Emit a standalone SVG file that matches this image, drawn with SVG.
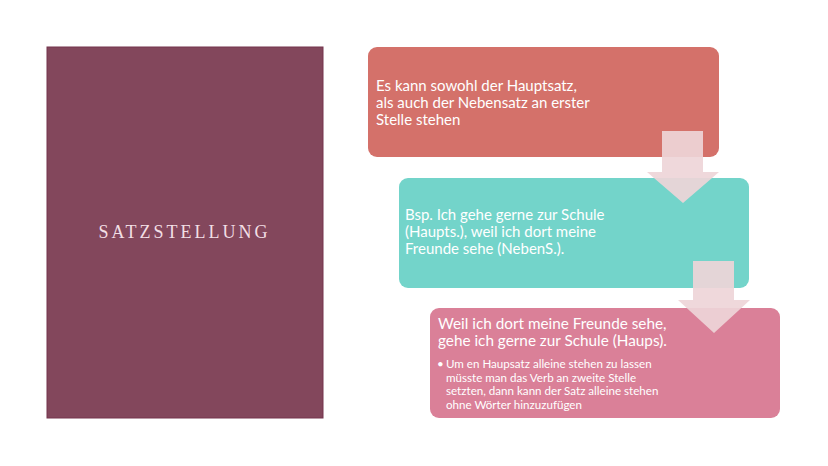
<svg xmlns="http://www.w3.org/2000/svg" width="828" height="466" viewBox="0 0 828 466">
<style>
.t{font-family:Lato,"Open Sans","Liberation Sans",sans-serif;fill:#ffffff}
.m{font-size:15px}
.s{font-size:11.6px}
.arrow{fill:#EED5D8;fill-opacity:0.92}
</style>
<rect width="828" height="466" fill="#ffffff"/>
<g id="title">
<rect x="47" y="47" width="276" height="371" fill="#83475C" stroke="#74354C" stroke-width="1"/>
<text x="184.5" y="238" text-anchor="middle" font-family="'Liberation Serif',serif" font-size="18" letter-spacing="3" fill="#F2DFE5">SATZSTELLUNG</text>
</g>
<g id="box1">
<rect x="368" y="47" width="351" height="110" rx="9" fill="#D4716A"/>
<text class="t m" x="376" y="91">Es kann sowohl der Hauptsatz,</text>
<text class="t m" x="376" y="108">als auch der Nebensatz an erster</text>
<text class="t m" x="376" y="125">Stelle stehen</text>
</g>
<g id="box2">
<rect x="399" y="178" width="350" height="110" rx="9" fill="#73D4CA"/>
<text class="t m" x="405" y="220">Bsp. Ich gehe gerne zur Schule</text>
<text class="t m" x="405" y="237">(Haupts.), weil ich dort meine</text>
<text class="t m" x="405" y="254">Freunde sehe (NebenS.).</text>
</g>
<g id="box3">
<rect x="430" y="308" width="350" height="110" rx="9" fill="#DA8098"/>
<text class="t" font-size="15.3" x="438" y="329">Weil ich dort meine Freunde sehe,</text>
<text class="t" font-size="15.3" x="438" y="346">gehe ich gerne zur Schule (Haups).</text>
<text class="t s" x="437" y="368">•</text>
<text class="t s" x="446" y="368">Um en Haupsatz alleine stehen zu lassen</text>
<text class="t s" x="446" y="381.5">müsste man das Verb an zweite Stelle</text>
<text class="t s" x="446" y="395">setzten, dann kann der Satz alleine stehen</text>
<text class="t s" x="446" y="408.5">ohne Wörter hinzuzufügen</text>
</g>
<g id="connectors">
<path class="arrow" d="M662 131 H703 V172 H719 L683 203 L647 172 H662 Z"/>
<path class="arrow" d="M693 261 H734 V300 H750 L714 333 L678 300 H693 Z"/>
</g>
</svg>
